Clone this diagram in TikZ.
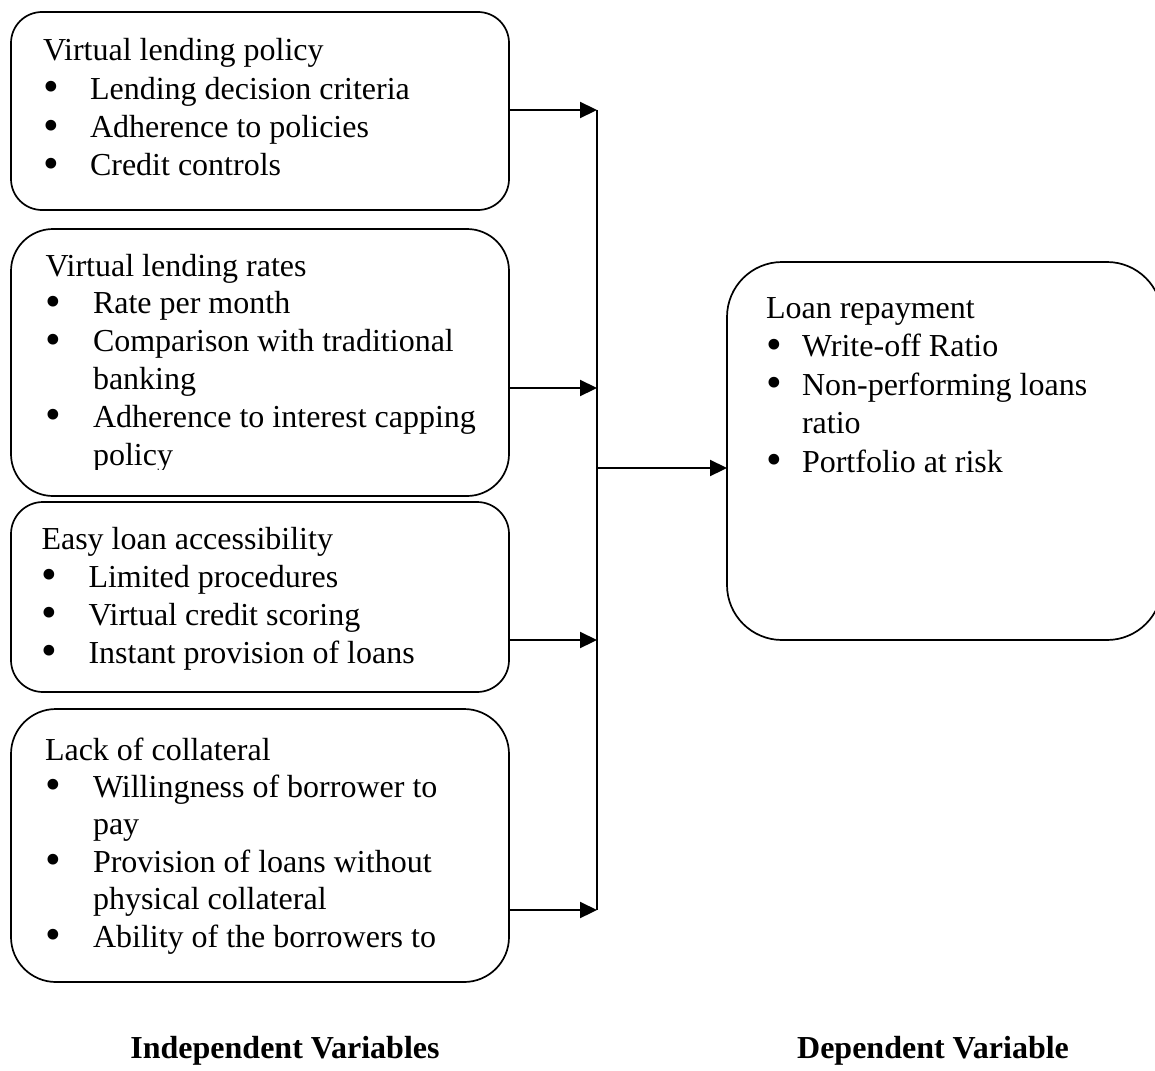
\documentclass[tikz,border=0pt]{standalone}
\usepackage{fontspec}
\setmainfont{Liberation Serif}
\usetikzlibrary{arrows.meta}
\newcommand{\bdot}{\smash{\raisebox{-2.5pt}{\scalebox{1.4}{\textbullet}}}}
\newcommand{\bitem}[2][47pt]{\hbox{\makebox[#1][l]{\bdot}#2}}
\newcommand{\contline}[2][47pt]{\hbox{\hspace*{#1}#2}}
\newcommand{\ttl}[1]{\hbox{#1}}
\tikzset{
  box/.style={draw, line width=1.7pt, inner sep=0pt, outer sep=0pt},
  txt/.style={anchor=base west, inner sep=0pt, outer sep=0pt, font=\fontsize{32}{38}\selectfont},
  lbl/.style={anchor=base, inner sep=0pt, font=\fontsize{32}{38}\selectfont\bfseries},
  arr/.style={line width=2.2pt, -{Triangle[length=17pt,width=16pt]}},
  bus/.style={line width=1.7pt}
}
\begin{document}
\begin{tikzpicture}[x=1pt,y=-1pt]
\useasboundingbox (0,0) rectangle (1155,1070);
\clip (0,0) rectangle (1155,1070);
% boxes
\node[box, rounded corners=31pt, minimum width=498pt, minimum height=198pt] (b1) at (260,111) {};
\node[box, rounded corners=42pt, minimum width=498pt, minimum height=267pt] (b2) at (260,362.5) {};
\node[box, rounded corners=32pt, minimum width=498pt, minimum height=190pt] (b3) at (260,597) {};
\node[box, rounded corners=45pt, minimum width=498pt, minimum height=273pt] (b4) at (260,845.5) {};
\node[box, rounded corners=55pt, minimum width=435pt, minimum height=378pt] (r) at (944.5,451) {};
% texts
\node[txt] (t1) at (43,61) {\vtop{\baselineskip=38.3pt
  \ttl{Virtual lending policy}
  \bitem{Lending decision criteria}
  \bitem{Adherence to policies}
  \bitem{Credit controls}}};
\begin{scope}
\clip (0,0) rectangle (560,469);
\node[txt] (t2) at (45.5,276) {\vtop{\baselineskip=37.8pt
  \ttl{Virtual lending rates}
  \bitem[46.5pt]{\hspace{1pt}Rate per month}
  \bitem[46.5pt]{\hspace{1pt}Comparison with traditional}
  \contline[47.5pt]{banking}
  \bitem[46.5pt]{\hspace{1pt}Adherence to interest capping}
  \contline[47.5pt]{policy}}};
\end{scope}
\node[txt] (t3) at (41.5,549) {\vtop{\baselineskip=38pt
  \ttl{Easy loan accessibility}
  \bitem{Limited procedures}
  \bitem{Virtual credit scoring}
  \bitem{Instant provision of loans}}};
\node[txt] (t4) at (45,760) {\vtop{\baselineskip=37.4pt
  \ttl{Lack of collateral}
  \bitem[48pt]{Willingness of borrower to}
  \contline[48pt]{pay}
  \bitem[48pt]{Provision of loans without}
  \contline[48pt]{physical collateral}
  \bitem[48pt]{Ability of the borrowers to}}};
\node[txt] (t5) at (766,318) {\vtop{\baselineskip=38.5pt
  \ttl{Loan repayment}
  \bitem[36pt]{Write-off Ratio}
  \bitem[36pt]{Non-performing loans}
  \contline[36pt]{ratio}
  \bitem[36pt]{Portfolio at risk}}};
% connectors
\coordinate (j1) at (597,110);
\coordinate (j2) at (597,388);
\coordinate (j3) at (597,640);
\coordinate (j4) at (597,910);
\coordinate (jm) at (597,468);
\draw[bus] (j1) -- (j4);
\draw[arr] (b1.east |- j1) -- (j1);
\draw[arr] (b2.east |- j2) -- (j2);
\draw[arr] (b3.east |- j3) -- (j3);
\draw[arr] (b4.east |- j4) -- (j4);
\draw[arr] (jm) -- (r.west |- jm);
% labels
\node[lbl] (iv) at (285,1058) {Independent Variables};
\node[lbl] (dv) at (933,1058) {Dependent Variable};
\end{tikzpicture}
\end{document}
